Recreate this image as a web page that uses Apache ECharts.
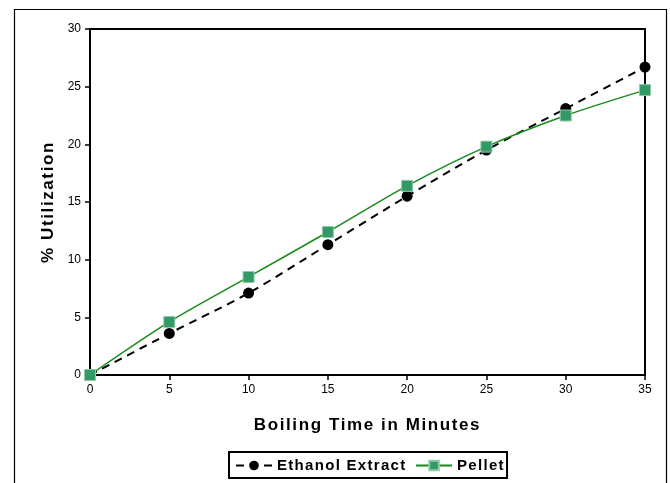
<!DOCTYPE html>
<html><head><meta charset="utf-8">
<script src="https://cdn.jsdelivr.net/npm/echarts@6/dist/echarts.min.js"></script>
<style>
html,body{margin:0;padding:0;background:#fff}
#c{width:670px;height:483px}
</style>
</head><body><div id="c"></div>
<script>
const times = [0, 5, 10, 15, 20, 25, 30, 35];
const ethanol = [0, 3.6, 7.1, 11.3, 15.5, 19.5, 23.1, 26.7];
const pellet = [0, 4.6, 8.5, 12.4, 16.4, 19.8, 22.5, 24.7];
const pair = (xs, ys) => xs.map((x, i) => [x, ys[i]]);

// widen the tracking of the bold titles like the original (canvas letterSpacing)
(function () {
  const proto = CanvasRenderingContext2D.prototype;
  const orig = proto.fillText;
  proto.fillText = function (t, x, y, w) {
    if (!('letterSpacing' in this)) return orig.apply(this, arguments);
    const f = this.font || '';
    let sp = '0px';
    if (/bold/.test(f) && /17px/.test(f)) sp = '1.6px';
    else if (/bold/.test(f) && /15px/.test(f)) sp = '1.3px';
    const prev = this.letterSpacing;
    this.letterSpacing = sp;
    const r = orig.apply(this, arguments);
    this.letterSpacing = prev;
    return r;
  };
})();

const chart = echarts.init(document.getElementById('c'));
const font = 'Liberation Sans, Arial, sans-serif';
chart.setOption({
  animation: false,
  graphic: [{type: 'rect', silent: true, z: 100, shape: {x: 14.5, y: 9.5, width: 652, height: 480}, style: {fill: 'none', stroke: '#000', lineWidth: 1.2}}],
  grid: {left: 90, right: 25, top: 29, bottom: 108, show: true, borderColor: '#000', borderWidth: 2, backgroundColor: 'transparent'},
  xAxis: {
    type: 'value', min: 0, max: 35, interval: 5,
    name: 'Boiling Time in Minutes', nameLocation: 'middle', nameGap: 42,
    nameTextStyle: {fontFamily: font, fontWeight: 'bold', fontSize: 17, color: '#000'},
    axisLine: {lineStyle: {color: '#000', width: 2}},
    axisTick: {show: true, length: 5, lineStyle: {color: '#000', width: 1.5}},
    axisLabel: {fontFamily: font, fontSize: 12, color: '#000', margin: 9},
    splitLine: {show: false}
  },
  yAxis: {
    type: 'value', min: 0, max: 30, interval: 5,
    name: '% Utilization', nameLocation: 'middle', nameGap: 26,
    nameTextStyle: {fontFamily: font, fontWeight: 'bold', fontSize: 17, color: '#000'},
    axisLine: {show: true, lineStyle: {color: '#000', width: 2}},
    axisTick: {show: true, length: 5, lineStyle: {color: '#000', width: 1.5}},
    axisLabel: {fontFamily: font, fontSize: 12, color: '#000', margin: 9},
    splitLine: {show: false}
  },
  legend: {
    left: 229, top: 452,
    data: ['Ethanol Extract', 'Pellet'],
    borderColor: '#000', borderWidth: 2, padding: [6, 10, 5, 6],
    itemWidth: 36, itemHeight: 12, itemGap: 28,
    textStyle: {fontFamily: font, fontWeight: 'bold', fontSize: 15, color: '#000'}
  },
  series: [
    {
      name: 'Ethanol Extract', type: 'line', data: pair(times, ethanol), smooth: 0.3,
      symbol: 'circle', symbolSize: 11,
      lineStyle: {color: '#000', width: 2, type: [8, 6]},
      itemStyle: {color: '#000'}
    },
    {
      name: 'Pellet', type: 'line', data: pair(times, pellet), smooth: 0.3,
      symbol: 'rect', symbolSize: 11,
      lineStyle: {color: '#1a8a1a', width: 1.5},
      itemStyle: {color: '#339966', borderColor: '#8fcaa8', borderWidth: 1}
    }
  ]
});
</script></body></html>
